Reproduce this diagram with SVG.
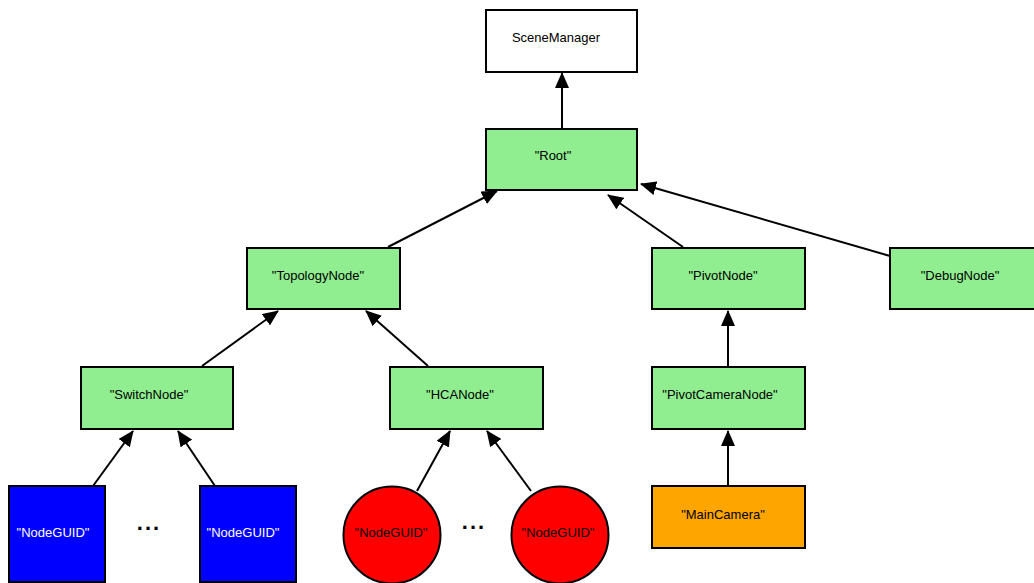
<svg xmlns="http://www.w3.org/2000/svg" width="1034" height="583" viewBox="0 0 1034 583">
  <defs>
    <marker id="arrow" viewBox="0 0 16 14" refX="15" refY="7" markerWidth="16" markerHeight="14" markerUnits="userSpaceOnUse" orient="auto">
      <path d="M0,0 L16,7 L0,14 Z" fill="#000"/>
    </marker>
    <style>
      .box { stroke: #000; stroke-width: 2; }
      .green { fill: #90ee90; }
      .white { fill: #ffffff; }
      .blue { fill: #0000ff; }
      .red { fill: #ff0000; }
      .orange { fill: #ffa500; }
      .edge { stroke: #000; stroke-width: 2; fill: none; marker-end: url(#arrow); }
      text { font-family: "Liberation Sans", Arial, sans-serif; font-size: 13px; text-anchor: middle; fill: #000; }
      .light { fill: #ffffff; }
      .dots { font-size: 22px; font-weight: bold; letter-spacing: 2px; }
    </style>
  </defs>

  <g id="connectors">
    <line class="edge" x1="562" y1="129" x2="562" y2="73"/>
    <line class="edge" x1="388" y1="247" x2="497" y2="191"/>
    <line class="edge" x1="683" y1="247" x2="608" y2="195"/>
    <line class="edge" x1="890" y1="256" x2="641" y2="184"/>
    <line class="edge" x1="202" y1="366" x2="278" y2="311"/>
    <line class="edge" x1="428" y1="366" x2="366" y2="311"/>
    <line class="edge" x1="728" y1="367" x2="728" y2="311"/>
    <line class="edge" x1="93" y1="486" x2="133" y2="431"/>
    <line class="edge" x1="215" y1="486" x2="178" y2="431"/>
    <line class="edge" x1="417" y1="491" x2="450" y2="431"/>
    <line class="edge" x1="531" y1="491" x2="487" y2="431"/>
    <line class="edge" x1="728" y1="486" x2="728" y2="431"/>
  </g>

  <g id="scene-manager">
    <rect class="box white" x="486" y="10" width="151" height="62"/>
    <text x="556" y="42">SceneManager</text>
  </g>
  <g id="root">
    <rect class="box green" x="486" y="129" width="151" height="61"/>
    <text x="553" y="160">"Root"</text>
  </g>
  <g id="topology-node">
    <rect class="box green" x="247" y="248" width="153" height="61"/>
    <text x="318" y="280">"TopologyNode"</text>
  </g>
  <g id="pivot-node">
    <rect class="box green" x="652" y="248" width="153" height="61"/>
    <text x="723" y="280">"PivotNode"</text>
  </g>
  <g id="debug-node">
    <rect class="box green" x="890" y="248" width="153" height="61"/>
    <text x="960" y="280">"DebugNode"</text>
  </g>
  <g id="switch-node">
    <rect class="box green" x="81" y="367" width="152" height="62"/>
    <text x="149" y="399">"SwitchNode"</text>
  </g>
  <g id="hca-node">
    <rect class="box green" x="390" y="367" width="153" height="62"/>
    <text x="460" y="399">"HCANode"</text>
  </g>
  <g id="pivot-camera-node">
    <rect class="box green" x="652" y="367" width="153" height="62"/>
    <text x="720" y="399">"PivotCameraNode"</text>
  </g>
  <g id="switch-guid-1">
    <rect class="box blue" x="9" y="486" width="96" height="96"/>
    <text class="light" x="53" y="537">"NodeGUID"</text>
  </g>
  <g id="switch-guid-dots">
    <text class="dots" x="149" y="530">...</text>
  </g>
  <g id="switch-guid-2">
    <rect class="box blue" x="200" y="486" width="96" height="96"/>
    <text class="light" x="243" y="537">"NodeGUID"</text>
  </g>
  <g id="hca-guid-1">
    <circle class="box red" cx="392" cy="535" r="48.5"/>
    <text x="391" y="537">"NodeGUID"</text>
  </g>
  <g id="hca-guid-dots">
    <text class="dots" x="474" y="529">...</text>
  </g>
  <g id="hca-guid-2">
    <circle class="box red" cx="560" cy="535" r="48.5"/>
    <text x="558" y="537">"NodeGUID"</text>
  </g>
  <g id="main-camera">
    <rect class="box orange" x="652" y="486" width="153" height="62"/>
    <text x="723" y="519">"MainCamera"</text>
  </g>
</svg>
